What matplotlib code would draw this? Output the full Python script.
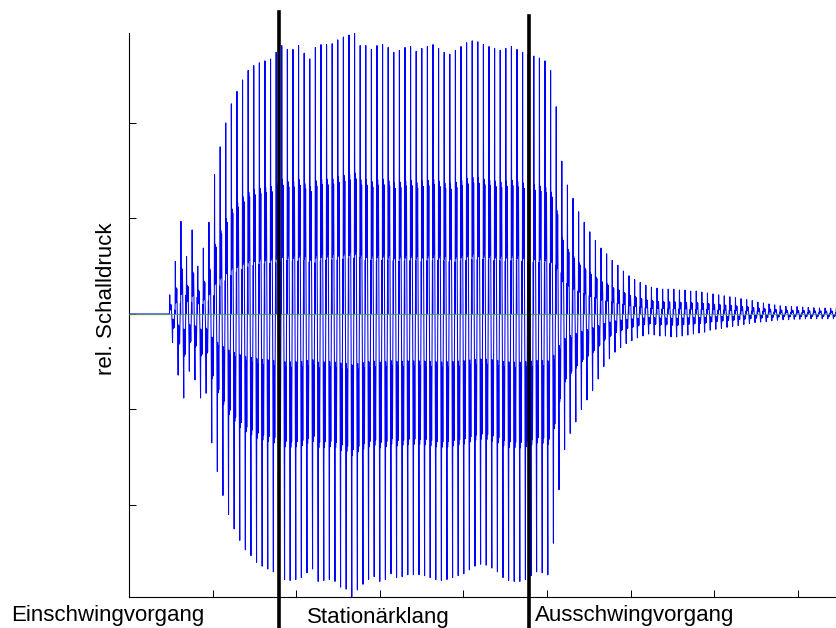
import matplotlib
matplotlib.use('Agg')
import matplotlib.pyplot as plt

plt.rcParams['font.family'] = ['Liberation Sans', 'DejaVu Sans']

# time axis (arbitrary units, one tick = 1), one sound period per entry
onset = 0.484
period = 0.067

# positive / negative peak of every period
peak_top = [
    0.2, 0.55, 0.97, 0.6, 0.88, 0.5, 0.69, 0.96, 1.46, 1.75, 2.0, 2.2, 2.33, 2.45, 2.55, 2.6, 2.63, 2.65,
    2.67, 2.74, 2.81, 2.77, 2.77, 2.81, 2.73, 2.67, 2.79, 2.82, 2.82, 2.83, 2.87, 2.90, 2.92, 2.95,
    2.81, 2.81, 2.77, 2.81, 2.82, 2.79, 2.74, 2.76, 2.79, 2.80, 2.75,
    2.78, 2.8, 2.82, 2.78, 2.74, 2.72, 2.76, 2.8, 2.84, 2.86, 2.85, 2.82, 2.8, 2.78, 2.76, 2.78,
    2.8, 2.77, 2.74, 2.72, 2.7, 2.68,
    2.65, 2.55, 2.17, 1.6, 1.35, 1.21, 1.07, 0.96, 0.86, 0.77,
    0.69, 0.63, 0.56, 0.51, 0.45, 0.40, 0.36, 0.33, 0.30, 0.28, 0.27, 0.26, 0.26, 0.26, 0.25, 0.25,
    0.24, 0.24, 0.23, 0.22, 0.21, 0.20, 0.19, 0.18, 0.17, 0.16, 0.15, 0.14, 0.125, 0.115, 0.105,
    0.095, 0.085, 0.08, 0.078, 0.076, 0.072, 0.068, 0.065, 0.063, 0.062, 0.06, 0.06,
]
peak_bot = [
    -0.3, -0.64, -0.88, -0.6, -0.69, -0.88, -0.83, -1.35, -1.65, -1.9, -2.1, -2.25, -2.37, -2.47,
    -2.53, -2.6, -2.64, -2.67,
    -2.70, -2.76, -2.78, -2.79, -2.78, -2.76, -2.71, -2.67, -2.80, -2.79, -2.78, -2.80, -2.86, -2.88,
    -2.96, -2.89, -2.83, -2.78, -2.75, -2.80, -2.78, -2.72, -2.76, -2.75, -2.73, -2.73, -2.73,
    -2.74, -2.76, -2.78, -2.79, -2.78, -2.76, -2.74, -2.72, -2.68, -2.64, -2.62, -2.63, -2.66, -2.70,
    -2.76, -2.79, -2.8, -2.8, -2.78, -2.74, -2.7, -2.71,
    -2.73, -2.4, -1.84, -1.42, -1.25, -1.13, -1.0, -0.9, -0.8, -0.68,
    -0.55, -0.47, -0.40, -0.35, -0.31, -0.28, -0.25, -0.23, -0.21,
    -0.22, -0.23, -0.23, -0.24, -0.24, -0.23, -0.22, -0.21, -0.2, -0.19, -0.17, -0.16, -0.15, -0.14,
    -0.13, -0.12, -0.11, -0.10, -0.09, -0.085, -0.08, -0.07, -0.065, -0.06, -0.06, -0.055, -0.055,
    -0.05, -0.05, -0.05, -0.05, -0.05, -0.05, -0.05,
]

# shape of one period (phase within period, fraction of the period's peak)
shape_phase = [0.0, 0.05, 0.10, 0.17, 0.24, 0.31, 0.45, 0.55, 0.60, 0.67, 0.74, 0.81, 0.95]
shape_val = [0.0, 1.0, 0.21, 0.5, 0.22, 0.48, -0.2, -1.0, -0.18, -0.5, -0.2, -0.48, 0.2]

# phase boundaries and section names
boundaries = [1.798, 4.779]
boundary_tops = [3.16, 3.12]
section_names = ['Einschwingvorgang', 'Stationärklang', 'Ausschwingvorgang']

t = [0.0]
y = [0.0]
for i, (hi, lo) in enumerate(zip(peak_top, peak_bot)):
    start = onset + i * period
    for ph, v in zip(shape_phase, shape_val):
        t.append(start + ph * period)
        y.append(v * hi if v >= 0 else -v * lo)

fig = plt.figure(figsize=(8.36, 6.28), dpi=100)
ax = fig.add_axes([0.1543, 0.0494, 0.8457, 0.8981])

ax.plot(t, y, color='#0000ff', lw=0.75, zorder=2)
ax.axhline(0, color='#4f9a4f', lw=0.9, alpha=0.8, zorder=3)

for xb, top in zip(boundaries, boundary_tops):
    ax.plot([xb, xb], [-3.5, top], color='black', lw=2.6, clip_on=False, zorder=4)

ax.set_xlim(0, 8.457)
ax.set_ylim(-2.963, 2.942)
ax.set_xticks(range(1, 9))
ax.set_yticks([-2, -1, 0, 1, 2])
ax.set_xticklabels([])
ax.set_yticklabels([])
ax.tick_params(direction='in', length=5, width=0.7)
ax.spines['top'].set_visible(False)
ax.spines['right'].set_visible(False)
ax.spines['left'].set_linewidth(0.8)
ax.spines['bottom'].set_linewidth(0.8)

fig.text(107 / 836, 1 - 299 / 628, 'rel. Schalldruck', rotation=90,
         ha='center', va='center', fontsize=16)

label_x = [11.5, 306.5, 535]
label_base = [621.5, 622.5, 620.5]
for name, lx, lb in zip(section_names, label_x, label_base):
    fig.text(lx / 836, 1 - lb / 628, name, ha='left', va='baseline', fontsize=16)

fig.savefig('out.png', dpi=100)
